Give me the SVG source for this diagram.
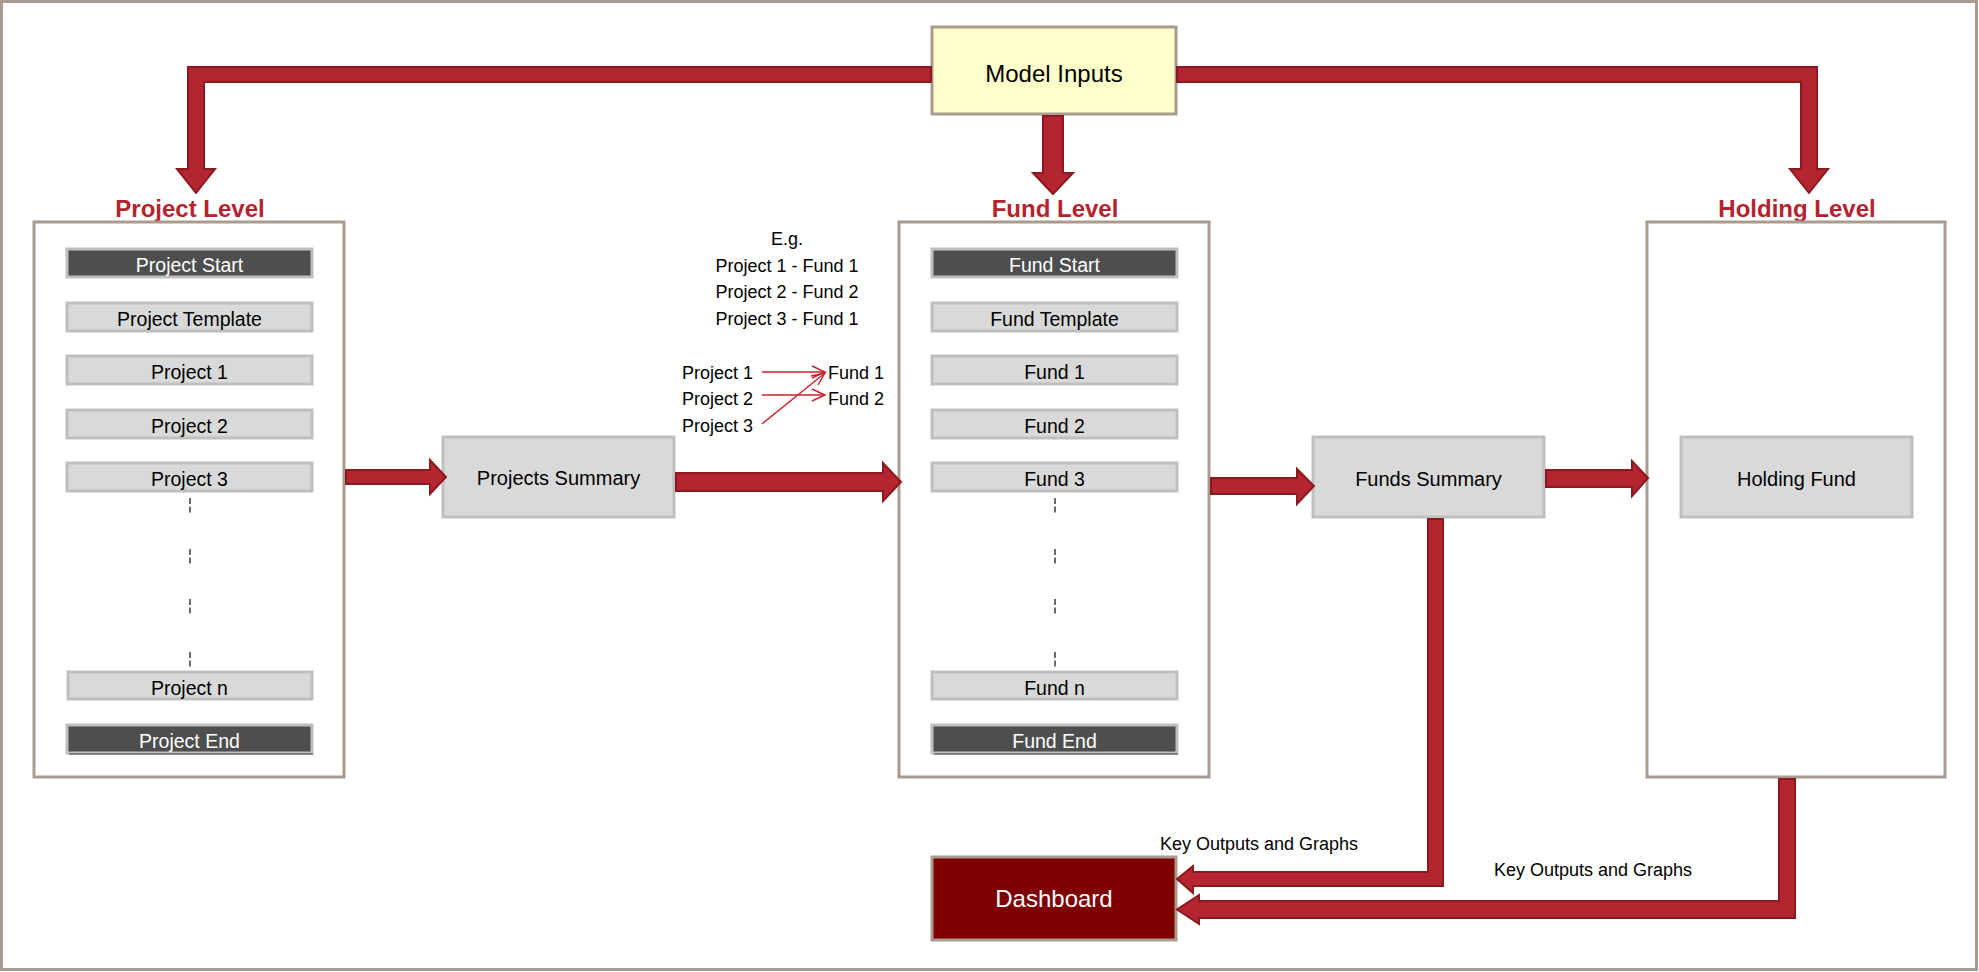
<svg xmlns="http://www.w3.org/2000/svg" width="1979" height="972" viewBox="0 0 1979 972">
<defs>
<style>
text{font-family:"Liberation Sans",Arial,sans-serif;}
.frame{fill:none;stroke:#a99b8e;stroke-width:3;}
.item{fill:#d9d9d9;stroke:#bfbfbf;stroke-width:3;}
.dark{fill:#4e4e4e;stroke:#bfbfbf;stroke-width:3;}
.it{font-size:19.5px;fill:#000;text-anchor:middle;}
.dt{font-size:19.5px;fill:#fff;text-anchor:middle;}
.title{font-size:24px;font-weight:bold;fill:#b4232e;text-anchor:middle;}
.big{font-size:20px;fill:#000;text-anchor:middle;}
.small{font-size:18px;fill:#000;}
.arrow{fill:#b5252f;stroke:#8a1a20;stroke-width:2;stroke-linejoin:miter;}
.thin{fill:none;stroke:#c4222c;stroke-width:1.4;}
.dash{stroke:#3a3a3a;stroke-width:1.5;stroke-dasharray:6 2.5;}
</style>
</defs>
<rect x="0" y="0" width="1979" height="972" fill="#fff"/>
<rect x="1.5" y="1.5" width="1975" height="968" class="frame"/>

<g id="model-inputs">
<rect x="932" y="27" width="244" height="87" fill="#ffffcc" stroke="#a99b8e" stroke-width="3"/>
<text x="1054" y="82" font-size="24" text-anchor="middle">Model Inputs</text>
</g>

<g id="project-level">
<text x="190" y="217" class="title">Project Level</text>
<rect x="34" y="222" width="310" height="555" class="frame"/>
<g id="project-start"><rect x="67" y="249" width="245" height="28" class="dark"/><text x="189.5" y="272" class="dt">Project Start</text></g>
<g id="project-template"><rect x="67" y="303" width="245" height="28" class="item"/><text x="189.5" y="326" class="it">Project Template</text></g>
<g id="project-1"><rect x="67" y="356" width="245" height="28" class="item"/><text x="189.5" y="379" class="it">Project 1</text></g>
<g id="project-2"><rect x="67" y="410" width="245" height="28" class="item"/><text x="189.5" y="433" class="it">Project 2</text></g>
<g id="project-3"><rect x="67" y="463" width="245" height="28" class="item"/><text x="189.5" y="486" class="it">Project 3</text></g>
<line x1="190" y1="498" x2="190" y2="513" class="dash"/>
<line x1="190" y1="549" x2="190" y2="564" class="dash"/>
<line x1="190" y1="599" x2="190" y2="614" class="dash"/>
<line x1="190" y1="652" x2="190" y2="667" class="dash"/>
<g id="project-n"><rect x="68" y="672" width="244" height="27" class="item"/><text x="189.5" y="695" class="it">Project n</text></g>
<g id="project-end"><rect x="67" y="725" width="245" height="28" class="dark"/><line x1="69" y1="754" x2="313" y2="754" stroke="#333" stroke-width="1"/><text x="189.5" y="748" class="dt">Project End</text></g>
</g>

<g id="projects-summary">
<rect x="443" y="437" width="231" height="80" class="item"/>
<text x="558.5" y="485" class="big">Projects Summary</text>
</g>

<g id="example-note">
<text x="787" y="245" class="small" text-anchor="middle">E.g.</text>
<text x="787" y="272" class="small" text-anchor="middle">Project 1 - Fund 1</text>
<text x="787" y="298" class="small" text-anchor="middle">Project 2 - Fund 2</text>
<text x="787" y="325" class="small" text-anchor="middle">Project 3 - Fund 1</text>
<text x="682" y="379" class="small" font-size="17.5">Project 1</text>
<text x="682" y="405" class="small" font-size="17.5">Project 2</text>
<text x="682" y="432" class="small" font-size="17.5">Project 3</text>
<text x="828" y="379" class="small" font-size="17.5">Fund 1</text>
<text x="828" y="405" class="small" font-size="17.5">Fund 2</text>
</g>

<g id="fund-level">
<text x="1055" y="217" class="title">Fund Level</text>
<rect x="899" y="222" width="310" height="555" class="frame"/>
<g id="fund-start"><rect x="932" y="249" width="245" height="28" class="dark"/><text x="1054.5" y="272" class="dt">Fund Start</text></g>
<g id="fund-template"><rect x="932" y="303" width="245" height="28" class="item"/><text x="1054.5" y="326" class="it">Fund Template</text></g>
<g id="fund-1"><rect x="932" y="356" width="245" height="28" class="item"/><text x="1054.5" y="379" class="it">Fund 1</text></g>
<g id="fund-2"><rect x="932" y="410" width="245" height="28" class="item"/><text x="1054.5" y="433" class="it">Fund 2</text></g>
<g id="fund-3"><rect x="932" y="463" width="245" height="28" class="item"/><text x="1054.5" y="486" class="it">Fund 3</text></g>
<line x1="1055" y1="498" x2="1055" y2="513" class="dash"/>
<line x1="1055" y1="549" x2="1055" y2="564" class="dash"/>
<line x1="1055" y1="599" x2="1055" y2="614" class="dash"/>
<line x1="1055" y1="652" x2="1055" y2="667" class="dash"/>
<g id="fund-n"><rect x="932" y="672" width="245" height="27" class="item"/><text x="1054.5" y="695" class="it">Fund n</text></g>
<g id="fund-end"><rect x="932" y="725" width="245" height="28" class="dark"/><line x1="934" y1="754" x2="1178" y2="754" stroke="#333" stroke-width="1"/><text x="1054.5" y="748" class="dt">Fund End</text></g>
</g>

<g id="funds-summary">
<rect x="1313" y="437" width="231" height="80" class="item"/>
<text x="1428.5" y="486" class="big">Funds Summary</text>
</g>

<g id="holding-level">
<text x="1797" y="217" class="title">Holding Level</text>
<rect x="1647" y="222" width="298" height="555" class="frame"/>
<g id="holding-fund"><rect x="1681" y="437" width="231" height="80" class="item"/><text x="1796.5" y="486" class="big">Holding Fund</text></g>
</g>

<g id="dashboard">
<rect x="932" y="857" width="244" height="83" fill="#7f0000" stroke="#a99b8e" stroke-width="3"/>
<text x="1054" y="907" font-size="24" fill="#fff" text-anchor="middle">Dashboard</text>
</g>

<g id="connectors">
<polygon class="arrow" points="931,67 188,67 188,169 177,169 196,193 215,169 204,169 204,82 931,82"/>
<polygon class="arrow" points="1177,67 1817,67 1817,169 1828,169 1809,193 1790,169 1801,169 1801,82 1177,82"/>
<polygon class="arrow" points="1043,116 1063,116 1063,173 1073,173 1053,194 1033,173 1043,173"/>
<polygon class="arrow" points="346,470 430,470 430,460 446,477 430,494 430,484 346,484"/>
<polygon class="arrow" points="676,473 883,473 883,463 901,482 883,501 883,491 676,491"/>
<polygon class="arrow" points="1211,478 1297,478 1297,469 1314,486 1297,504 1297,494 1211,494"/>
<polygon class="arrow" points="1546,470 1632,470 1632,461 1648,478 1632,496 1632,487 1546,487"/>
<polygon class="arrow" points="1428,519 1443,519 1443,886 1193,886 1193,893 1177,879 1193,866 1193,872 1428,872"/>
<polygon class="arrow" points="1779,779 1795,779 1795,918 1199,918 1199,924 1177,909.5 1199,895 1199,901 1779,901"/>
<text x="1160" y="850" font-size="18">Key Outputs and Graphs</text>
<text x="1494" y="876" font-size="18">Key Outputs and Graphs</text>
<g class="thin">
<line x1="762" y1="372" x2="825" y2="372"/>
<polyline points="812,366 825,372 812,378"/>
<line x1="762" y1="395" x2="825" y2="395"/>
<polyline points="812,389 825,395 812,401"/>
<line x1="762" y1="424" x2="825" y2="373"/>
<polyline points="811,376 825,373 818,385"/>
</g>
</g>
</svg>
